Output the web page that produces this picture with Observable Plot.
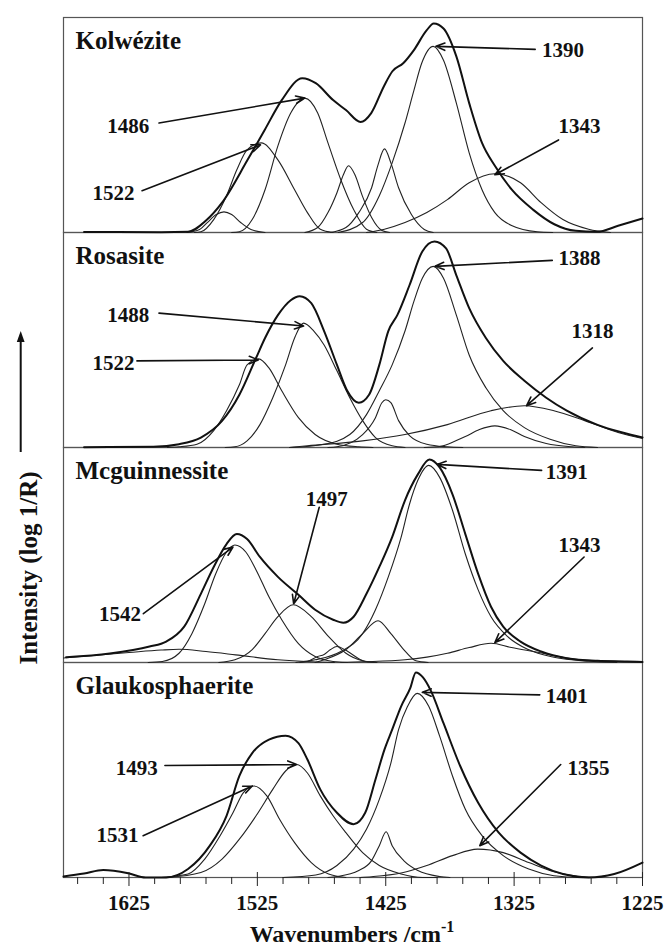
<!DOCTYPE html>
<html>
<head>
<meta charset="utf-8">
<script src="https://cdn.jsdelivr.net/npm/d3@7"></script>
<script src="https://cdn.jsdelivr.net/npm/@observablehq/plot@0.6"></script>
<style>
  html, body { margin: 0; padding: 0; background: #fff; }
  #chart { width: 666px; height: 949px; }
</style>
</head>
<body>
<div id="chart"></div>
<script>
// ---------- DATA (wavenumber /cm-1, intensity in arbitrary units) ----------
const panelNames = ["Kolwézite", "Rosasite", "Mcguinnessite", "Glaukosphaerite"];
const majorTicks = [1625, 1525, 1425, 1325, 1225];
const minorTicks = [1665, 1645, 1605, 1585, 1565, 1545, 1505, 1485, 1465, 1445, 1405, 1385, 1365, 1345, 1305, 1285, 1265, 1245];

// Kolwézite
const kolweziteEnvelope = [[1660,0.5],[1600,0.3],[1579,0.7],[1565,12],[1552.5,30],[1532.6,73],[1519.3,103],[1506,133],[1490,155],[1479.5,150],[1466,133],[1456,123],[1444.6,111],[1436.3,120],[1426.4,147],[1419.8,162],[1411.4,170],[1403.2,183],[1393.2,203],[1387.6,210],[1380,205],[1370,177],[1360,130],[1350,90],[1340,67],[1326.8,43],[1310.3,23],[1293.7,8.3],[1277,1.7],[1260.5,0.7],[1244,6.7],[1225,14]];
const kolweziteBands = [
  [[1580,0],[1570,3],[1564,10],[1557,18],[1551,20.7],[1545,18],[1538,10],[1530,3],[1519,0]],
  [[1574,0],[1569,0.7],[1559,13],[1549,37],[1541,63],[1533,83],[1522,90],[1509,73],[1496,43],[1486,20],[1476,3.3],[1466,0]],
  [[1545,0],[1539,0.7],[1529,13],[1519,43],[1509,87],[1499,120],[1488,135],[1478,120],[1470,90],[1460,53],[1450,23],[1440,3.3],[1432,0]],
  [[1488,0],[1478,5],[1470,20],[1463,40],[1458,58],[1454,67],[1449,58],[1443,36],[1436,15],[1428,2],[1422,0]],
  [[1468,0],[1456,5],[1446,20],[1436,45],[1431,68],[1426,84],[1421,70],[1415,45],[1405,18],[1395,3],[1388,0]],
  [[1462,0],[1443,10],[1430,37],[1420,70],[1410,110],[1403,143],[1397,170],[1388,187],[1380,173],[1370,130],[1360,80],[1350,43],[1340,20],[1327,7],[1307,0.7],[1295,0]],
  [[1440,0],[1426,3.3],[1410,10],[1393,20],[1377,33],[1360,50],[1340,59],[1320,50],[1304,30],[1287,13],[1267,3.3],[1250,0]]
];
const kolweziteLabels = [
  ["1390", 1287, 183, 1308.6, 184, 1385.9, 187],
  ["1486", 1625.5, 107, 1601.6, 110, 1488, 135],
  ["1522", 1637, 39, 1614.8, 42, 1522.6, 88],
  ["1343", 1274, 107, 1290.4, 93, 1340, 58]
];

// Rosasite
const rosasiteEnvelope = [[1660,0.3],[1606,0.7],[1586,3.3],[1569,10],[1552.5,26.7],[1539,53],[1526,90],[1519,110],[1509,133],[1499,148],[1492,152],[1483,145],[1473,117],[1463,83],[1455,57],[1446,45],[1438,53],[1430,83],[1423,117],[1416,133],[1406.5,163],[1396.5,197],[1387,207],[1378,200],[1370,173],[1360,140],[1347,110],[1333.5,87],[1317,67],[1300,50],[1284,37],[1260.5,23],[1240.6,15],[1225,10]];
const rosasiteBands = [
  [[1595,0],[1586,0.7],[1572,3.3],[1559,17],[1549,37],[1539,63],[1533,83],[1524,89],[1516,80],[1506,57],[1493,30],[1480,13],[1463,3.3],[1446,0.7],[1435,0]],
  [[1550,0],[1542.5,0.7],[1533,6.7],[1523,23],[1513,50],[1503,83],[1496,110],[1489,125],[1481,117],[1473,103],[1463,77],[1453,50],[1443,27],[1433,10],[1420,1.7],[1410,0]],
  [[1470,0],[1463,0.7],[1443,13],[1433,30],[1428,45],[1425,48],[1421,45],[1415,27],[1406.5,12],[1393,3.3],[1377,0.7],[1365,0]],
  [[1500,0],[1473,3.3],[1453,13],[1440,33],[1430,57],[1420,83],[1410,117],[1403,147],[1396.5,170],[1388,182],[1380,170],[1370,133],[1360,93],[1347,60],[1333.5,37],[1317,20],[1297,8.3],[1277,1.7],[1260,0]],
  [[1500,0],[1486,1.7],[1443,6.7],[1410,13],[1377,23],[1343,37],[1317,42],[1294,37],[1270,27],[1244,15],[1225,9]],
  [[1395,0],[1383,1],[1370,7],[1363,11],[1352,18],[1340,21.7],[1328,18],[1317,11],[1300,4],[1280,0.7],[1270,0]]
];
const rosasiteLabels = [
  ["1388", 1274, 190, 1295.3, 188, 1386.6, 182],
  ["1488", 1625.5, 133, 1601.6, 135, 1489, 122],
  ["1522", 1637, 85, 1618.8, 87, 1524.3, 88],
  ["1318", 1264, 117, 1264, 100, 1315.3, 42]
];

// Mcguinnessite
const mcguinnessiteEnvelope = [[1674,5.3],[1640,9],[1609,16],[1596,21],[1582,36],[1569,69],[1559,96],[1549,119],[1541,129],[1533,124],[1523,106],[1509,86],[1493,68],[1480,53],[1466,43],[1458,40],[1450,46],[1440,69],[1430,96],[1420,126],[1410,163],[1400,189],[1391,204],[1383,196],[1373,169],[1363,129],[1353,89],[1343,56],[1333.5,36],[1320,21],[1304,11],[1284,4.3],[1260,1.7],[1237,1],[1225,0.5]];
const mcguinnessiteBands = [
  [[1676,4.5],[1625,10],[1600,12.5],[1586,13.3],[1565,11],[1542,7.7],[1509,2.7],[1483,0.7],[1465,0]],
  [[1610,0],[1599,1],[1586,9.3],[1576,29],[1566,59],[1557.5,89],[1549,111],[1542.5,118],[1534,111],[1526,93],[1516,66],[1506,43],[1493,19],[1480,6],[1466,1],[1455,0]],
  [[1555,0],[1542.5,2.7],[1529,13],[1519,29],[1509,46],[1497,58],[1483,46],[1469.5,26],[1456,9.3],[1443,1.7],[1432,0]],
  [[1492,0],[1486,1],[1478,6],[1473,8],[1468,13],[1463,16],[1457,13],[1451,8],[1445,3],[1439,0.5],[1432,0]],
  [[1480,0],[1473,2.7],[1456,13],[1443,29],[1431,42],[1421,29],[1411,13],[1401.5,1.7],[1392,0]],
  [[1495,0],[1480,2.7],[1460,11],[1443,29],[1433,53],[1423,86],[1413,126],[1406.5,159],[1400,183],[1391.5,198],[1383,186],[1373,153],[1363,109],[1353,73],[1343,46],[1330,26],[1314,13],[1294,5.3],[1267,1.3],[1245,0]],
  [[1460,0],[1443,0.7],[1410,2.7],[1377,9.3],[1360,15],[1343,19.3],[1327,15],[1310,11],[1277,3.3],[1244,1],[1225,0.5]]
];
const mcguinnessiteLabels = [
  ["1391", 1284, 191, 1303.6, 193, 1385, 199],
  ["1497", 1471, 164, 1476.8, 156, 1496.7, 59],
  ["1542", 1632, 48, 1613.8, 49, 1544, 116],
  ["1343", 1274, 118, 1270.5, 106, 1340, 20]
];

// Glaukosphaerite
const glaukosphaeriteEnvelope = [[1676,1],[1660,4],[1645,7.5],[1625.5,4.2],[1612,0],[1596,0],[1579,8.5],[1562,32],[1549,62],[1539,102],[1529,125],[1516,138.5],[1503,142.5],[1493,135],[1486,118.5],[1476,88.5],[1463,65],[1450,53.5],[1441,65],[1433,98.5],[1426,128.5],[1420,148.5],[1413,172],[1406,190],[1401.5,206],[1396,201],[1390,188],[1380,155],[1367,112],[1353,75],[1337,45],[1320,25],[1304,12],[1287,3.5],[1267,0],[1247,3.5],[1225,15]];
const glaukosphaeriteBands = [
  [[1600,0],[1579,3.5],[1566,18.5],[1554,42],[1544,65],[1536,85],[1527.6,92],[1517.6,82],[1507.7,58.5],[1496,35],[1483,15],[1469.5,3.5],[1456,0]],
  [[1595,0],[1569,5],[1552.5,18.5],[1539,38.5],[1526,62],[1513,88.5],[1503,107],[1494.4,113.5],[1486,105],[1476,82],[1466,62],[1456,45],[1443,25],[1430,12],[1413,3.5],[1396.5,0],[1385,0]],
  [[1470,0],[1463,1],[1446,7],[1436,17],[1430,32],[1424.7,46],[1420,32],[1411,17],[1400,7],[1383,1],[1375,0]],
  [[1505,0],[1479.5,2.5],[1463,12],[1450,28.5],[1440,48.5],[1430,78.5],[1421,115],[1415,148.5],[1408,172],[1400.5,185],[1391.5,172],[1383,142],[1373,102],[1363,68.5],[1350,42],[1333.5,22],[1313.6,8.5],[1294,1.8],[1274,0],[1265,0]],
  [[1445,0],[1436,0.8],[1413,4.5],[1393,12],[1373,22],[1353.4,28.5],[1333.5,25],[1313.6,15],[1294,5.8],[1270.5,0.8],[1260,0]]
];
const glaukosphaeriteLabels = [
  ["1401", 1284, 182, 1305, 183.5, 1396.5, 186],
  ["1493", 1619, 110, 1597, 112.5, 1494.4, 113.5],
  ["1531", 1634, 42, 1614, 42, 1529, 92],
  ["1355", 1267, 110, 1288.7, 113.5, 1351.7, 32]
];

// ---------- TABLES ----------
const panels = [
  {name: panelNames[0], envelope: kolweziteEnvelope, bands: kolweziteBands, labels: kolweziteLabels},
  {name: panelNames[1], envelope: rosasiteEnvelope, bands: rosasiteBands, labels: rosasiteLabels},
  {name: panelNames[2], envelope: mcguinnessiteEnvelope, bands: mcguinnessiteBands, labels: mcguinnessiteLabels},
  {name: panelNames[3], envelope: glaukosphaeriteEnvelope, bands: glaukosphaeriteBands, labels: glaukosphaeriteLabels}
];

const envelopeRows = [];
const bandRows = [];
const labelRows = [];
for (const p of panels) {
  for (const [wn, h] of d3.sort(p.envelope, d => -d[0])) envelopeRows.push({panel: p.name, wn, h});
  p.bands.forEach((b, i) => {
    for (const [wn, h] of d3.sort(b, d => -d[0])) bandRows.push({panel: p.name, id: p.name + i, wn, h});
  });
  for (const [label, tx, ty, sx, sy, px, py] of p.labels) labelRows.push({panel: p.name, label, tx, ty, sx, sy, px, py});
}

// ---------- PLOT ----------
const chart = Plot.plot({
  width: 666,
  height: 949,
  marginTop: 15,
  marginBottom: 70.5,
  marginLeft: 63,
  marginRight: 24,
  style: {fontFamily: "'Liberation Serif', 'Times New Roman', serif", fontWeight: "bold", fontSize: "21px", color: "#111", background: "#fff"},
  x: {domain: [1676, 1225], label: null},
  y: {domain: [0, 216], axis: null},
  fy: {domain: panelNames, padding: 0, axis: null, label: null},
  marks: [
    Plot.frame({stroke: "#555", strokeWidth: 1.2}),
    Plot.line(bandRows, {x: "wn", y: "h", z: "id", fy: "panel", curve: "monotone-x", stroke: "#222", strokeWidth: 1.1}),
    Plot.line(envelopeRows, {x: "wn", y: "h", fy: "panel", curve: "monotone-x", stroke: "#111", strokeWidth: 2}),
    Plot.arrow(labelRows, {x1: "sx", y1: "sy", x2: "px", y2: "py", fy: "panel", stroke: "#111", strokeWidth: 1.6, headLength: 9, headAngle: 45}),
    Plot.text(labelRows, {x: "tx", y: "ty", fy: "panel", text: "label", fontSize: 21, lineAnchor: "middle", fill: "#111"}),
    Plot.text(panelNames, {fy: d => d, text: d => d, frameAnchor: "top-left", dx: 12, dy: 31, lineAnchor: "bottom", fontSize: 25, fill: "#111"}),
    Plot.axisX({ticks: minorTicks, tickSize: 7, tickFormat: () => "", stroke: "#222"}),
    Plot.axisX({ticks: majorTicks, tickSize: 5, dy: -5, tickFormat: () => "", stroke: "#222"}),
    Plot.axisX({ticks: majorTicks, tickSize: 9, tickPadding: 9, tickFormat: d => String(d), stroke: "#222", fill: "#111", fontSize: 21, label: null})
  ]
});

document.getElementById("chart").appendChild(chart);

// ---------- AXIS TITLES ----------
const svg = d3.select(chart);
const serif = "'Liberation Serif', 'Times New Roman', serif";
const xTitle = svg.append("text")
  .attr("x", 352).attr("y", 942)
  .attr("text-anchor", "middle")
  .attr("font-family", serif).attr("font-weight", "bold").attr("font-size", 24)
  .attr("fill", "#111");
xTitle.append("tspan").text("Wavenumbers /cm");
xTitle.append("tspan").attr("dy", -10).attr("font-size", 16).text("-1");

svg.append("text")
  .attr("transform", "translate(37,568) rotate(-90)")
  .attr("text-anchor", "middle")
  .attr("font-family", serif).attr("font-weight", "bold").attr("font-size", 25)
  .attr("fill", "#111")
  .text("Intensity (log 1/R)");
svg.append("line")
  .attr("x1", 20.7).attr("x2", 20.7).attr("y1", 452).attr("y2", 340)
  .attr("stroke", "#111").attr("stroke-width", 2);
svg.append("path")
  .attr("d", "M20.7,331 L16.8,342 L24.6,342 Z")
  .attr("fill", "#111");
</script>
</body>
</html>
